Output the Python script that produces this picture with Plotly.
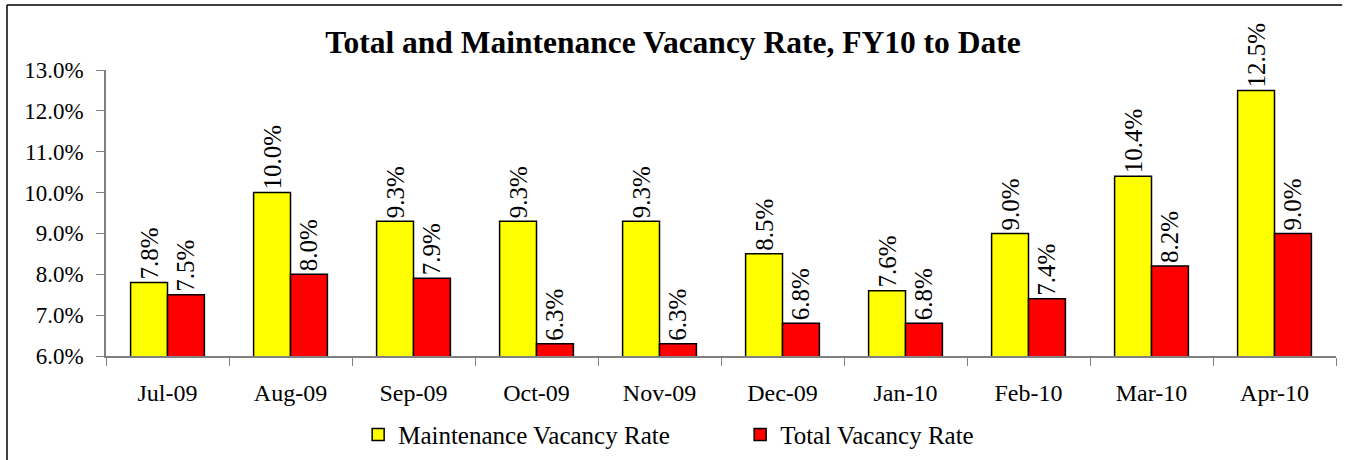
import plotly.graph_objects as go

months = ['Jul-09', 'Aug-09', 'Sep-09', 'Oct-09', 'Nov-09',
          'Dec-09', 'Jan-10', 'Feb-10', 'Mar-10', 'Apr-10']
maint_rate = [7.8, 10.0, 9.3, 9.3, 9.3, 8.5, 7.6, 9.0, 10.4, 12.5]
total_rate = [7.5, 8.0, 7.9, 6.3, 6.3, 6.8, 6.8, 7.4, 8.2, 9.0]
y_ticks = [6, 7, 8, 9, 10, 11, 12, 13]

SERIF = 'Liberation Serif, Times New Roman, serif'

fig = go.Figure()
for name, vals, clr in [('Maintenance Vacancy Rate', maint_rate, '#FFFF00'),
                        ('Total Vacancy Rate', total_rate, '#FF0000')]:
    fig.add_trace(go.Bar(
        x=months, y=vals, name=name,
        marker=dict(color=clr, line=dict(color='#000000', width=1.5)),
        text=[f'{v:.1f}%' for v in vals],
        textposition='outside', textangle=-90,
        textfont=dict(family=SERIF, size=25, color='#000000'),
        constraintext='none', cliponaxis=False,
    ))

# chart frame: only top and left edges show in the crop
_frame = dict(color='#000000', width=1.5)
fig.add_shape(type='line', xref='paper', yref='paper',
              x0=-0.0805, x1=1.005, y0=1.227, y1=1.227, line=_frame)
fig.add_shape(type='line', xref='paper', yref='paper',
              x0=-0.0805, x1=-0.0805, y0=1.227, y1=-0.5, line=_frame)

fig.update_layout(
    width=1346, height=460,
    barmode='group', bargap=0.4, bargroupgap=0,
    paper_bgcolor='white', plot_bgcolor='white',
    margin=dict(l=106, r=10, t=70, b=104),
    title=dict(text='<b>Total and Maintenance Vacancy Rate, FY10 to Date</b>',
               x=0.5, xanchor='center', y=0.909, yanchor='middle',
               font=dict(family=SERIF, size=31.5, color='#000000')),
    font=dict(family=SERIF, size=24, color='#000000'),
    showlegend=True,
    legend=dict(orientation='h', x=0.205, xanchor='left',
                yref='container', y=0.055, yanchor='middle',
                font=dict(family=SERIF, size=25, color='#000000'),
                itemwidth=30, entrywidth=337, entrywidthmode='pixels',
                traceorder='normal', bgcolor='rgba(0,0,0,0)'),
    xaxis=dict(showgrid=False, showline=True, linecolor='#808080', linewidth=1.5,
               ticks='outside', tickson='boundaries', ticklen=8, tickcolor='#808080',
               ticklabelstandoff=14, automargin=False,
               tickfont=dict(family=SERIF, size=24, color='#000000')),
    yaxis=dict(range=[6, 13], tickvals=y_ticks,
               ticktext=[f'{v:.1f}%' for v in y_ticks],
               showgrid=False, zeroline=False, showline=True,
               linecolor='#808080', linewidth=1.5,
               ticks='outside', ticklen=8, tickcolor='#808080',
               ticklabelstandoff=8, automargin=False,
               tickfont=dict(family=SERIF, size=23, color='#000000')),
)

# drop the default 8px body margin so the figure sits at the page origin
fig.write_html('out.html', config=dict(displayModeBar=False),
               post_script="document.body.style.margin='0';")
